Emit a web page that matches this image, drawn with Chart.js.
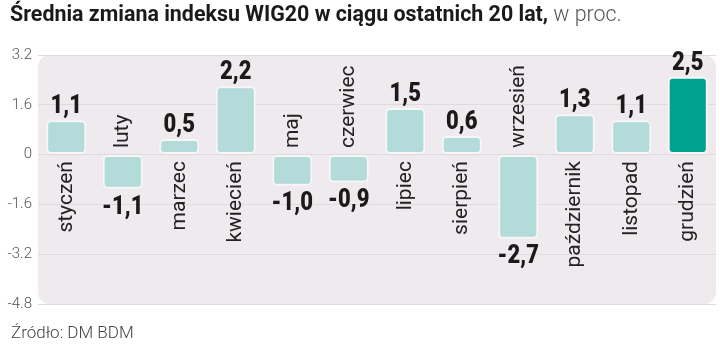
<!DOCTYPE html>
<html lang="pl">
<head>
<meta charset="utf-8">
<script src="https://cdn.jsdelivr.net/npm/chart.js@4"></script>
<style>
  body { margin: 0; background: #fff; font-family: Roboto, sans-serif; }
  #wrap { position: relative; width: 720px; height: 360px; }
  #tytul { position: absolute; left: 10px; top: 1px; font-size: 22px; white-space: nowrap; transform-origin: 0 0; color: #1a1a1a; }
  #tytul b { font-weight: 700; }
  #tytul span { font-weight: 300; color: #555; }
  #zrodlo { position: absolute; left: 11px; top: 322px; font-size: 17px; font-weight: 300; color: #444; }
  canvas { position: absolute; left: 0; top: 0; }
</style>
</head>
<body>
<div id="wrap">
  <canvas id="myChart" width="720" height="360"></canvas>
  <div id="tytul"><b>Średnia zmiana indeksu WIG20 w ciągu ostatnich 20 lat,</b><span> w proc.</span></div>
  <div id="zrodlo">Źródło: DM BDM</div>
</div>
<script>
const miesiace = ['styczeń', 'luty', 'marzec', 'kwiecień', 'maj', 'czerwiec', 'lipiec', 'sierpień', 'wrzesień', 'październik', 'listopad', 'grudzień'];
const zmiany = [1.1, -1.1, 0.5, 2.2, -1.0, -0.9, 1.5, 0.6, -2.7, 1.3, 1.1, 2.5];
const osY = [3.2, 1.6, 0, -1.6, -3.2, -4.8];

// the title font is condensed in the original, so squeeze it to width
const tytul = document.getElementById('tytul');
const bold = tytul.querySelector('b');
tytul.style.transform = `scaleX(${538 / bold.offsetWidth})`;

const kolory = zmiany.map((v, i) => i == zmiany.length - 1 ? '#00a18f' : '#b3dbd9');

const tlo = {
    id: 'tlo',
    beforeDraw(chart) {
        const { ctx, chartArea: a } = chart;
        ctx.save();
        ctx.fillStyle = '#eeeaee';
        ctx.beginPath();
        ctx.roundRect(a.left, a.top, a.right - a.left, a.bottom - a.top, 12);
        ctx.fill();
        ctx.restore();
    }
};

const etykiety = {
    id: 'etykiety',
    afterDatasetsDraw(chart) {
        const ctx = chart.ctx;
        const meta = chart.getDatasetMeta(0);
        meta.data.forEach((bar, i) => {
            const v = zmiany[i];
            const txt = v.toFixed(1).replace('.', ',');
            ctx.save();
            ctx.fillStyle = '#1a1a1a';
            ctx.font = '900 25px Roboto';
            ctx.textAlign = 'center';
            ctx.save();
            if (v >= 0) {
                ctx.textBaseline = 'alphabetic';
                ctx.translate(bar.x, bar.y - 7);
            } else {
                ctx.textBaseline = 'top';
                ctx.translate(bar.x, bar.y + 6);
            }
            ctx.scale(0.88, 1);
            ctx.fillText(txt, 0, 0);
            ctx.restore();

            ctx.font = '21px Roboto';
            ctx.fillStyle = '#222';
            ctx.textBaseline = 'middle';
            ctx.translate(bar.x, bar.base);
            ctx.rotate(-Math.PI / 2);
            if (v >= 0) {
                ctx.textAlign = 'right';
                ctx.fillText(miesiace[i], -7, 0);
            } else {
                ctx.textAlign = 'left';
                ctx.fillText(miesiace[i], 7, 0);
            }
            ctx.restore();
        });
    }
};

new Chart(document.getElementById('myChart'), {
    type: 'bar',
    data: {
        labels: miesiace,
        datasets: [{
            data: zmiany,
            backgroundColor: kolory,
            borderColor: '#f7f7f7',
            borderWidth: 2,
            borderRadius: 5,
            borderSkipped: false,
            barPercentage: 0.71,
            categoryPercentage: 1
        }]
    },
    options: {
        responsive: false,
        animation: false,
        layout: { padding: { top: 55, bottom: 56, left: 0, right: 4 } },
        plugins: { legend: { display: false }, tooltip: { enabled: false } },
        scales: {
            x: { display: false },
            y: {
                min: -4.8,
                max: 3.2,
                afterFit(scale) { scale.width = 38; },
                afterBuildTicks(scale) { scale.ticks = osY.map(v => ({ value: v })); },
                border: { display: false },
                grid: { color: '#dedade', lineWidth: 1, drawTicks: false },
                ticks: {
                    padding: 6,
                    color: '#555',
                    font: { family: 'Roboto', size: 15, weight: 300 },
                    callback: v => v == 0 ? '0' : v.toFixed(1)
                }
            }
        }
    },
    plugins: [tlo, etykiety]
});
</script>
</body>
</html>
